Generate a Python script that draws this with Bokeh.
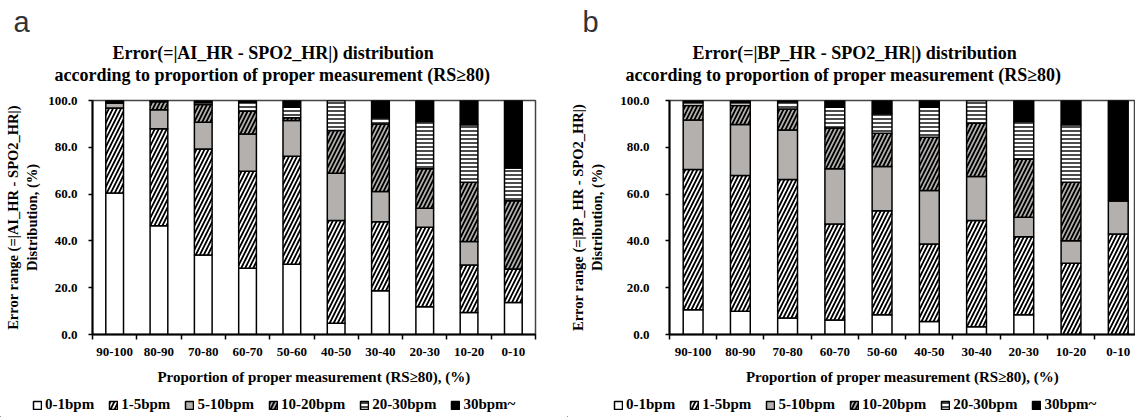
import numpy as np
from bokeh.plotting import figure
from bokeh.layouts import row, column
from bokeh.models import (ColumnDataSource, FixedTicker, NumeralTickFormatter, Legend,
                          LegendItem, Title, Range1d)
from bokeh.embed import file_html
from bokeh.resources import INLINE

categories = ["90-100", "80-90", "70-80", "60-70", "50-60", "40-50", "30-40", "20-30", "10-20", "0-10"]
series_labels = ["0-1bpm", "1-5bpm", "5-10bpm", "10-20bpm", "20-30bpm", "30bpm~"]
y_ticks = [0, 20, 40, 60, 80, 100]

# Panel a: Error(=|AI_HR - SPO2_HR|)
a_0_1 = [60.5, 46.5, 34.0, 28.3, 30.0, 4.8, 18.7, 11.9, 9.4, 13.7]
a_1_5 = [36.3, 41.4, 45.3, 41.5, 46.2, 43.9, 29.5, 33.9, 20.3, 14.3]
a_5_10 = [2.0, 8.1, 11.4, 15.9, 15.2, 20.2, 12.9, 8.1, 10.0, 0.0]
a_10_20 = [0.7, 3.5, 7.6, 9.7, 1.2, 18.3, 28.9, 16.9, 25.4, 29.2]
a_20_30 = [0.3, 0.3, 1.0, 3.9, 4.5, 12.8, 2.6, 20.2, 24.5, 14.0]
a_30 = [0.2, 0.2, 0.7, 0.7, 2.9, 0.0, 7.4, 9.0, 10.4, 28.8]

# Panel b: Error(=|BP_HR - SPO2_HR|)
b_0_1 = [10.6, 9.9, 7.0, 6.2, 8.4, 5.6, 3.3, 8.4, 0.0, 0.0]
b_1_5 = [59.9, 58.0, 59.2, 41.0, 44.5, 33.1, 45.4, 33.4, 30.4, 43.0]
b_5_10 = [21.2, 21.8, 21.2, 23.6, 18.9, 22.8, 18.8, 8.3, 9.7, 14.2]
b_10_20 = [6.2, 8.2, 9.0, 17.5, 14.2, 22.8, 22.8, 24.9, 25.0, 0.0]
b_20_30 = [1.5, 1.3, 3.1, 8.8, 8.3, 12.8, 9.7, 16.0, 24.5, 0.0]
b_30 = [0.6, 0.8, 0.5, 2.9, 5.7, 2.9, 0.0, 9.0, 10.4, 42.8]

SERIF = "Liberation Serif"
GRAY = "#b3b0ae"
fills = ["white", "white", GRAY, GRAY, "white", "black"]
hatches = [" ", "/", " ", "/", "-", " "]
hatch_scales = [8, 8, 8, 8, 4, 8]
hatch_weights = [1.8, 1.8, 1.8, 1.8, 1.4, 1.8]

MAIN_H = 392
LEG_H = 25


def make_panel(letter, title1, ylabel, series, width, left, right, xend, bar_w,
               t1_off, t2_off, letter_off, ylab_standoff, ytick_standoff):
    p = figure(width=width, height=MAIN_H, x_range=Range1d(0, xend), y_range=Range1d(0, 100),
               output_backend="svg", toolbar_location=None,
               min_border_left=left, min_border_right=right,
               min_border_top=100, min_border_bottom=MAIN_H - 334)
    p.xgrid.visible = False
    p.ygrid.visible = False
    p.outline_line_color = "#444444"
    p.outline_line_width = 1.5

    centers = [i + 0.5 for i in range(len(categories))]
    data = {"x": centers}
    for lab, vals in zip(series_labels, series):
        data[lab] = vals
    src = ColumnDataSource(data)
    p.vbar_stack(series_labels, x="x", width=bar_w, source=src,
                 fill_color=fills, line_color="black", line_width=1.5,
                 hatch_pattern=hatches, hatch_color="black",
                 hatch_scale=hatch_scales, hatch_weight=hatch_weights)

    xa = p.xaxis[0]
    xa.ticker = FixedTicker(ticks=centers, minor_ticks=list(range(len(categories) + 1)))
    xa.major_label_overrides = {c: lab for c, lab in zip(centers, categories)}
    xa.major_tick_out = 0
    xa.major_tick_in = 0
    xa.minor_tick_out = 5
    xa.minor_tick_in = 0
    xa.axis_line_width = 2
    xa.minor_tick_line_width = 1.5
    xa.major_label_text_font = SERIF
    xa.major_label_text_font_style = "bold"
    xa.major_label_text_font_size = "13px"
    xa.major_label_text_color = "black"
    xa.major_label_standoff = 8
    xa.axis_label = "Proportion of proper measurement (RS\u226580), (%)"
    xa.axis_label_text_font = SERIF
    xa.axis_label_text_font_style = "bold"
    xa.axis_label_text_font_size = "15px"
    xa.axis_label_text_color = "black"
    xa.axis_label_standoff = 10

    ya = p.yaxis[0]
    ya.ticker = FixedTicker(ticks=y_ticks, minor_ticks=[])
    ya.formatter = NumeralTickFormatter(format="0.0")
    ya.major_tick_out = 4
    ya.major_tick_in = 0
    ya.major_tick_line_width = 1.5
    ya.axis_line_width = 2
    ya.major_label_text_font = SERIF
    ya.major_label_text_font_style = "bold"
    ya.major_label_text_font_size = "13px"
    ya.major_label_text_color = "black"
    ya.major_label_standoff = ytick_standoff
    ya.axis_label = ylabel
    ya.axis_label_text_font = SERIF
    ya.axis_label_text_font_style = "bold"
    ya.axis_label_text_font_size = "14.5px"
    ya.axis_label_text_color = "black"
    ya.axis_label_standoff = ylab_standoff

    # header: first added sits closest to the frame
    p.add_layout(Title(text=" ", text_font_size="1px", standoff=13), "above")
    p.add_layout(Title(text="according to proportion of proper measurement (RS\u226580)",
                       align="left", offset=t2_off, text_font=SERIF, text_font_style="bold",
                       text_font_size="18px", text_color="black", standoff=0), "above")
    p.add_layout(Title(text=title1, align="left", offset=t1_off, text_font=SERIF,
                       text_font_style="bold", text_font_size="18px", text_color="black",
                       standoff=0), "above")
    p.add_layout(Title(text=letter, align="left", offset=letter_off, text_font="Liberation Sans",
                       text_font_style="normal", text_font_size="29px", text_color="#333333",
                       standoff=6), "above")
    return p


def make_legend_fig(width, legend_x):
    lf = figure(width=width, height=LEG_H, x_range=Range1d(0, 1), y_range=Range1d(0, 1),
                output_backend="svg", toolbar_location=None,
                x_axis_type=None, y_axis_type=None,
                min_border_left=0, min_border_right=0, min_border_top=0, min_border_bottom=0)
    lf.outline_line_color = None
    lf.xgrid.visible = False
    lf.ygrid.visible = False
    items = []
    # legend swatches: placeholder glyphs kept outside the visible range
    for lab, fc, hp, hs, hw in zip(series_labels, fills, hatches, hatch_scales, hatch_weights):
        r = lf.vbar(x=[-5], top=[-5], bottom=[-6], width=0.4, fill_color=fc, line_color="black",
                    line_width=1.5, hatch_pattern=hp, hatch_color="black",
                    hatch_scale=hs, hatch_weight=hw)
        items.append(LegendItem(label=lab, renderers=[r]))
    legend = Legend(items=items, location=(legend_x, 4), orientation="horizontal",
                    border_line_color=None, background_fill_alpha=0,
                    label_text_font=SERIF, label_text_font_style="bold",
                    label_text_font_size="15px", label_text_color="black",
                    glyph_width=10, glyph_height=10, label_standoff=3, spacing=14,
                    padding=2, margin=0)
    lf.add_layout(legend, "center")
    return lf


pa = make_panel("a", "Error(=|AI_HR - SPO2_HR|) distribution",
                "Error range (=|AI_HR - SPO2_HR|)\nDistribution, (%)",
                [a_0_1, a_1_5, a_5_10, a_10_20, a_20_30, a_30],
                width=567, left=92, right=32, xend=10, bar_w=0.4,
                t1_off=20, t2_off=-38, letter_off=-79,
                ylab_standoff=5, ytick_standoff=11)
pb = make_panel("b", "Error(=|BP_HR - SPO2_HR|) distribution",
                "Error range (=|BP_HR - SPO2_HR|)\nDistribution, (%)",
                [b_0_1, b_1_5, b_5_10, b_10_20, b_20_30, b_30],
                width=568, left=100, right=0, xend=468 / 47.44, bar_w=0.42,
                t1_off=23, t2_off=-44, letter_off=-87,
                ylab_standoff=12, ytick_standoff=16)
la = make_legend_fig(567, 32)
lb = make_legend_fig(568, 46)

layout = column(row(pa, pb, spacing=0), row(la, lb, spacing=0), spacing=0)
open("out.html", "w").write(file_html(layout, INLINE))
